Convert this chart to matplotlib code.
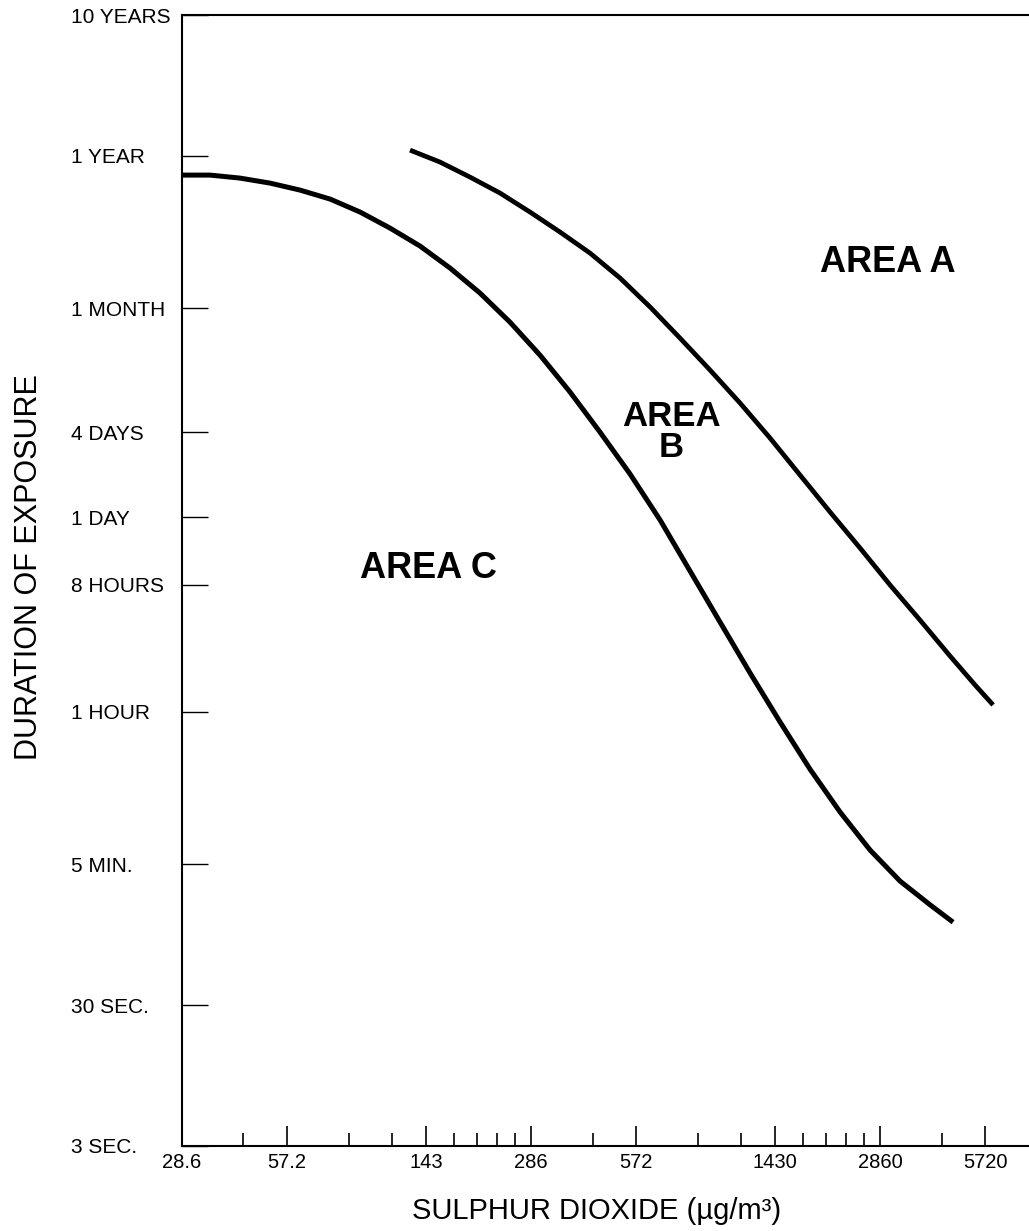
import numpy as np
import matplotlib
matplotlib.use('Agg')
import matplotlib.pyplot as plt
from matplotlib.ticker import FixedLocator, NullFormatter

plt.rcParams['font.family'] = ['Liberation Sans', 'DejaVu Sans']

# x: sulphur dioxide (ug/m3), y: duration of exposure (seconds)
x_major = [28.6, 57.2, 143, 286, 572, 1430, 2860, 5720]
x_major_labels = ['28.6', '57.2', '143', '286', '572', '1430', '2860', '5720']
x_minor = [42.9, 85.8, 114.4, 171.6, 200.2, 228.8, 257.4, 429,
           858, 1144, 1716, 2002, 2288, 2574, 4290]

y_ticks = [3.156e8, 3.156e7, 2.63e6, 345600, 86400, 28800, 3600, 300, 30, 3]
y_labels = ['10 YEARS', '1 YEAR', '1 MONTH', '4 DAYS', '1 DAY', '8 HOURS',
            '1 HOUR', '5 MIN.', '30 SEC.', '3 SEC.']

# boundary between area B and area C
bc_conc = [28.6, 34.4, 41.9, 51.1, 62.3, 76.0, 92.6, 112.8, 137.5, 167.6,
           204.3, 249.0, 303.5, 369.9, 450.8, 549.7, 670.1, 816.5, 995.0,
           1213.2, 1478.6, 1802.1, 2196.8, 2677.2, 3263.3, 3978.3, 4630]
bc_time = [2.31e7, 2.31e7, 2.2e7, 2.027e7, 1.808e7, 1.561e7, 1.263e7, 9.72e6,
           7.25e6, 5.06e6, 3.36e6, 2.09e6, 1.22e6, 6.68e5, 3.47e5, 1.75e5,
           8.26e4, 3.59e4, 1.56e4, 6790, 3050, 1410, 701, 377, 227, 154, 116]

# boundary between area A and area B
ab_conc = [128.7, 156.9, 191.2, 233.1, 284.1, 346.3, 422.1, 514.5, 627.2,
           764.5, 931.8, 1135.7, 1384.2, 1687.4, 2056.9, 2506.2, 3054.5,
           3723.7, 4538.8, 5353.9, 6028.9]
ab_time = [3.474e7, 2.857e7, 2.236e7, 1.722e7, 1.263e7, 9.11e6, 6.46e6,
           4.3e6, 2.68e6, 1.61e6, 9.56e5, 5.58e5, 3.15e5, 1.72e5, 9.41e4,
           5.23e4, 2.86e4, 1.61e4, 8960, 5580, 4030]

fig = plt.figure(figsize=(10.29, 12.31), dpi=100)
ax = fig.add_axes([0.1769, 0.06905, 0.8231, 0.91876])

ax.plot(bc_conc, bc_time, color='black', lw=3.6, solid_capstyle='butt',
        solid_joinstyle='round')
ax.plot(ab_conc, ab_time, color='black', lw=3.4, solid_capstyle='butt',
        solid_joinstyle='round')

ax.set_xscale('log')
ax.set_yscale('log')
ax.set_xlim(28.6, 7640)
ax.set_ylim(3, 3.156e8)

ax.spines['right'].set_visible(False)
for s in ['left', 'bottom', 'top']:
    ax.spines[s].set_linewidth(1.5)

ax.xaxis.set_major_locator(FixedLocator(x_major))
ax.xaxis.set_minor_locator(FixedLocator(x_minor))
ax.set_xticklabels(x_major_labels)
ax.xaxis.set_minor_formatter(NullFormatter())
ax.tick_params(axis='x', which='major', direction='in', length=14.5,
               width=1.2, labelsize=14.5, pad=5)
ax.tick_params(axis='x', which='minor', direction='in', length=9.5, width=1.2)

ax.yaxis.set_major_locator(FixedLocator(y_ticks))
ax.yaxis.set_minor_locator(FixedLocator([]))
ax.set_yticklabels(y_labels, ha='left')
ax.tick_params(axis='y', which='major', direction='in', length=19,
               width=1.0, labelsize=15, pad=80)

ax.set_xlabel('SULPHUR DIOXIDE (µg/m³)', fontsize=21)
ax.set_ylabel('DURATION OF EXPOSURE', fontsize=22)
ax.yaxis.set_label_coords(-0.163, 0.512)
ax.xaxis.set_label_coords(0.49, -0.045)

ax.text(3015, 5.58e6, 'AREA A', fontsize=26, fontweight='bold',
        ha='center', va='center')
ax.text(720, 3.48e5, 'AREA\nB', fontsize=25, fontweight='bold',
        ha='center', va='center', linespacing=0.95)
ax.text(145, 3.77e4, 'AREA C', fontsize=26, fontweight='bold',
        ha='center', va='center')

fig.savefig('out.png', dpi=100)
